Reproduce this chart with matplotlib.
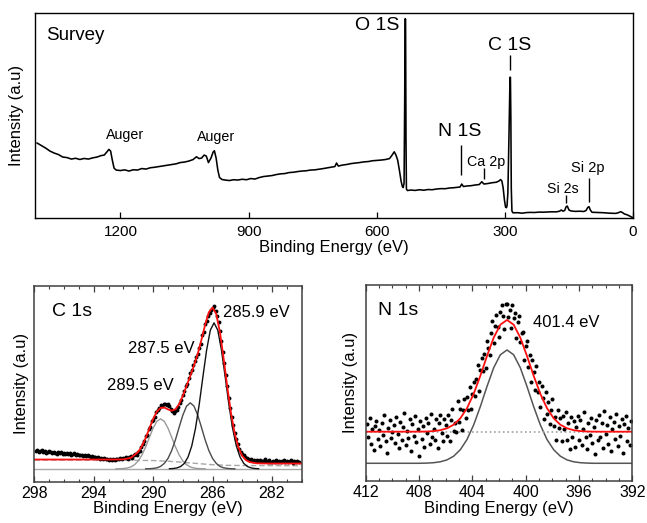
import numpy as np
import matplotlib
matplotlib.use("Agg")
import matplotlib.pyplot as plt
from matplotlib.ticker import MultipleLocator

plt.rcParams['font.family'] = ['Liberation Sans', 'DejaVu Sans']

# ---------------- Survey spectrum (binding energy eV, intensity a.u.) ----------------
svy_be = [1395, 1385, 1375, 1365, 1355, 1345, 1335, 1325, 1315, 1305, 1295, 1285, 1275, 1265,
          1255, 1245, 1238, 1232, 1227, 1223, 1219, 1215, 1210, 1200, 1190, 1180, 1170, 1160,
          1150, 1140, 1130, 1120, 1110, 1100, 1090, 1080, 1070, 1060, 1050, 1040, 1030, 1022,
          1016, 1010, 1004, 999, 994, 988, 983, 980, 976, 972, 968, 962, 955, 945, 935, 925,
          915, 905, 895, 885, 875, 865, 855, 845, 835, 825, 815, 805, 795, 785, 775, 765, 755,
          745, 735, 725, 715, 705, 698, 694, 690, 680, 670, 660, 650, 640, 630, 620, 610, 600,
          590, 580, 570, 564, 559, 555, 551, 547, 543, 540, 538, 536, 534.5, 533.5, 532.5,
          531.5, 530.5, 528, 520, 510, 500, 490, 480, 470, 460, 450, 440, 430, 420, 410, 405,
          401, 397, 390, 380, 370, 360, 354, 349, 340, 330, 320, 314, 310, 307, 304, 301,
          298.5, 296.5, 295, 293, 290.5, 288, 287, 286, 285, 283.5, 281, 270, 260, 250, 240,
          230, 220, 210, 200, 190, 180, 172, 168, 164, 160, 157, 154, 150, 145, 135, 125, 115,
          110, 106, 103, 100, 96, 85, 70, 55, 40, 33, 29, 25, 20, 14, 8, 3, 0]
svy_int = [75, 72.5, 70, 67, 65, 63.5, 61, 60.5, 59, 59.8, 58.6, 59.6, 59, 60.2,
           61, 62.5, 63, 66, 68.7, 67, 58, 50, 48, 47.5, 48.2, 47, 48.3, 48,
           49.5, 49, 50.3, 50.8, 51.5, 52.3, 53, 53.5, 54.2, 55.5, 56, 57, 58.5, 61.3,
           59.5, 60, 63, 62, 55.5, 60, 66, 67.3, 60, 48, 40.5, 38.5, 38, 37.5, 38.3, 38,
           38.8, 38.3, 39.5, 39, 40.5, 41.5, 42, 42.5, 43.5, 44.2, 44.5, 45.5, 45.8, 46.5, 47, 47.3, 48,
           48.2, 48.8, 49.5, 50.3, 51, 51.5, 55, 52, 53, 53.6, 54.5, 55, 55.5, 56.2, 56.5, 57.3, 57.6,
           58, 58.5, 59.5, 63, 66.3, 63, 58, 48, 37, 31.5, 30.5, 35, 120, 199.6, 199,
           80, 29, 27.5, 28, 27.6, 28.3, 27.8, 28.5, 28.3, 29, 29.4, 29.3, 30, 30.3, 30.8, 31,
           34, 31.5, 32, 32.3, 33, 33.5, 36.3, 34, 34.5, 35.3, 35.8, 37, 38.5, 37, 30, 18,
           11, 10.3, 12, 25, 80, 141, 140.8, 100, 30, 7, 5.2, 5.3, 4.8, 5.4, 5.6,
           5.5, 5.9, 5.8, 6, 6.2, 6.1, 6.8, 8, 6.8, 7.5, 11, 12, 8, 7, 6.6, 6.8, 6.5,
           7.5, 10.5, 11.3, 8, 5.7, 5.5, 5.3, 4.8, 4.6, 5.5, 6.3, 5.5, 4, 3.2, 2, 0.8, 0.3]

svy_ticks = [1200, 900, 600, 300, 0]
svy_labels = ["Auger", "Auger", "O 1S", "C 1S", "N 1S", "Ca 2p", "Si 2s", "Si 2p"]
svy_label_be = [1190, 976, 546, 288, 405, 344, 165, 105]
svy_label_y = [83, 81.5, 193, 172.4, 86.3, 56.3, 28.7, 49.7]
svy_line_be = [287, 402, 349, 157, 102]
svy_line_lo = [148, 43, 38.7, 14.7, 16.3]
svy_line_hi = [163, 73, 49.7, 23, 39.7]

# ---------------- C 1s high resolution ----------------
c1s_be = np.round(np.linspace(297.9, 280.2, 178), 2)   # energy channels, 0.1 eV
c1s_counts = [30.5, 31.2, 29.4, 30.8, 31.5, 29.9, 30.2, 28.8, 29.6, 30.9,
              29.1, 28.4, 30.0, 28.9, 27.6, 29.3, 28.1, 29.8, 27.9, 28.6,
              27.4, 28.8, 27.1, 28.2, 26.9, 27.8, 28.4, 26.5, 27.3, 26.8,
              27.0, 26.2, 25.9, 26.8, 25.4, 26.1, 25.2, 24.8, 25.7, 24.6,
              24.1, 23.5, 24.4, 22.9, 23.6, 22.4, 23.1, 22.2, 22.8, 21.9,
              22.5, 21.4, 22.9, 21.8, 22.6, 23.0, 22.1, 23.4, 22.7, 23.8,
              23.1, 24.2, 22.9, 24.5, 25.3, 24.0, 26.1, 27.2, 26.8, 29.4,
              31.0, 34.5, 37.8, 41.0, 45.2, 47.0, 52.4, 55.0, 60.1, 62.0,
              64.8, 69.5, 71.2, 74.0, 76.1, 75.3, 77.2, 78.0, 76.4, 77.5,
              75.9, 72.1, 70.4, 68.8, 70.9, 72.0, 74.7, 78.5, 81.3, 86.9,
              90.4, 95.1, 98.0, 103.2, 108.7, 112.0, 116.5, 120.3, 124.1, 128.0,
              133.8, 138.0, 146.1, 149.5, 157.9, 160.7, 165.3, 168.8, 171.4, 173.1,
              175.8, 171.0, 165.9, 159.2, 150.3, 141.0, 129.9, 118.6, 106.1, 95.2,
              84.0, 73.9, 64.1, 56.2, 48.9, 42.3, 37.4, 33.0, 29.8, 27.4,
              26.1, 24.9, 23.2, 22.8, 21.5, 22.4, 20.9, 21.8, 20.6, 21.4,
              20.3, 21.6, 20.1, 21.0, 22.3, 20.4, 19.8, 21.2, 20.0, 19.5,
              20.8, 19.4, 21.5, 19.9, 20.7, 19.1, 20.2, 21.9, 19.6, 20.5,
              19.3, 20.6, 21.4, 19.0, 20.1, 19.7, 20.9, 19.4]

c1s_fit_be = [298, 296, 294, 293, 292.5, 292, 291.5, 291, 290.75, 290.5, 290.25, 290, 289.75,
              289.5, 289.25, 289, 288.75, 288.5, 288.25, 288, 287.75, 287.5, 287.25, 287,
              286.75, 286.5, 286.25, 286, 285.75, 285.5, 285.25, 285, 284.75, 284.5, 284.25,
              284, 283.75, 283.5, 283, 282.5, 282, 281, 280]
c1s_fit = [22.0, 22.0, 22.0, 22.0, 22.0, 22.2, 23.7, 29.7, 35.6, 43.7, 53.2, 62.6, 69.9,
           73.7, 73.95, 72.1, 70.8, 72.3, 77.5, 85.8, 95.6, 105.6, 116.0, 127.6,
           141.7, 156.8, 169.3, 174.0, 167.5, 149.0, 122.6, 93.7, 67.6, 47.4, 33.8,
           25.6, 21.4, 19.4, 18.2, 18.05, 18.0, 18.0, 18.0]

c1s_bg_be = [298, 292, 290, 289, 288, 287, 286, 285, 284, 280]
c1s_bg = [21.5, 21.3, 21.0, 20.3, 19.2, 18.0, 16.8, 16.2, 16.0, 15.8]
c1s_base_be = [298, 280]
c1s_base = [12.7, 12.7]
c1s_ticks = [298, 294, 290, 286, 282]

c1s_peaks = [289.5, 287.5, 285.9]
c1s_comp_offsets = [-3.0, -2.75, -2.5, -2.25, -2.0, -1.75, -1.5, -1.25, -1.0, -0.75, -0.5, -0.25, 0,
                    0.25, 0.5, 0.75, 1.0, 1.25, 1.5, 1.75, 2.0, 2.25, 2.5, 2.75, 3.0]
c1s_comp_289 = [12.7, 12.8, 13.0, 13.5, 14.6, 16.8, 20.6, 26.6, 34.7, 44.2, 53.4, 60.2, 62.7,
                60.2, 53.4, 44.2, 34.7, 26.6, 20.6, 16.8, 14.6, 13.5, 13.0, 12.8, 12.7]
c1s_comp_287 = [12.7, 12.8, 13.1, 13.7, 15.1, 18.1, 23.1, 31.0, 41.7, 54.3, 66.4, 75.4, 78.7,
                75.4, 66.4, 54.3, 41.7, 31.0, 23.1, 18.1, 15.1, 13.7, 13.1, 12.8, 12.7]
c1s_comp_285 = [12.8, 13.0, 13.6, 15.0, 18.1, 24.5, 35.6, 53.1, 76.9, 104.7, 131.5, 151.4, 158.7,
                151.4, 131.5, 104.7, 76.9, 53.1, 35.6, 24.5, 18.1, 15.0, 13.6, 13.0, 12.8]

# ---------------- N 1s high resolution ----------------
n1s_be = np.round(np.linspace(411.9, 392.1, 199), 2)   # energy channels, 0.1 eV
n1s_counts = [57, 44, 63, 37, 52, 31, 55, 60, 42, 51,
              35, 58, 46, 66, 40, 28, 53, 61, 43, 49,
              56, 38, 64, 47, 33, 59, 41, 54, 68, 36,
              50, 43, 62, 30, 57, 45, 65, 39, 52, 25,
              60, 42, 55, 34, 63, 48, 58, 37, 67, 44,
              51.6, 40.7, 61.9, 33.0, 57.2, 65.5, 47.7, 40.1, 61.4, 55.9,
              44.4, 65.9, 39.6, 60.3, 72.1, 50.0, 58.1, 48.2, 79.5, 58.9,
              71.4, 51.1, 70.9, 81.9, 63.1, 83.5, 71.1, 93.8, 71.7, 86.7,
              98.9, 84.2, 101.7, 115.3, 90.0, 110.9, 122.9, 109.8, 126.7, 112.6,
              139.7, 132.6, 125.3, 148.1, 159.6, 138.0, 155.1, 166.0, 153.6, 144.0,
              169.0, 175.7, 165.0, 151.9, 176.5, 176.7, 163.5, 170.9, 153.0, 175.7,
              163.0, 168.0, 142.6, 159.0, 165.1, 139.0, 147.6, 149.1, 120.3, 134.6,
              139.7, 113.6, 125.7, 98.8, 120.9, 108.9, 91.0, 114.3, 88.7, 98.2,
              73.9, 94.7, 82.7, 61.8, 89.1, 66.5, 79.1, 56.9, 70.9, 82.1,
              54.4, 63.9, 40.5, 70.2, 53.1, 63.0, 40.1, 64.3, 51.6, 68.9,
              40.4, 57.9, 31.4, 64.1, 43.7, 59.5, 33.2, 54.0, 64.9, 40.7,
              60.6, 35.5, 51.4, 68.3, 43.3, 31.2, 57.2, 46.1, 63.1, 38.0,
              54, 27, 61, 41, 66, 44, 58, 33, 70, 47,
              56, 37, 64, 30, 52, 59, 42, 67, 35, 55,
              45, 62, 28, 57, 65, 40, 53, 36, 60]

n1s_fit_be = [412, 410, 408, 407.4, 406.9, 406.4, 405.9, 405.4, 404.9, 404.4, 403.9, 403.4,
              402.9, 402.4, 401.9, 401.4, 400.9, 400.4, 399.9, 399.4, 398.9, 398.4, 397.9,
              397.4, 396.9, 396.4, 395.9, 395.4, 394.9, 394.4, 393, 392]
n1s_fit = [49, 49, 49.05, 49.2, 49.6, 50.5, 52.4, 56.0, 62.4, 72.5, 86.9, 104.9,
           124.7, 143.0, 156.0, 160.7, 156.0, 143.0, 124.7, 104.9, 86.9, 72.5, 62.4,
           56.0, 52.4, 50.5, 49.6, 49.2, 49.05, 49.0, 49, 49]
n1s_comp = [17.4, 17.4, 17.4, 17.6, 18.0, 18.9, 20.8, 24.5, 31.0, 41.2, 55.8, 74.1,
            94.2, 112.9, 125.9, 130.7, 125.9, 112.9, 94.2, 74.1, 55.8, 41.2, 31.0,
            24.5, 20.8, 18.9, 18.0, 17.6, 17.4, 17.4, 17.4, 17.4]
n1s_bg_be = [412, 392]
n1s_bg = [48.3, 48.3]
n1s_ticks = [412, 408, 404, 400, 396, 392]
n1s_peak_label = "401.4 eV"

# ---------------- Figure ----------------
fig = plt.figure(figsize=(6.47, 5.23), dpi=100)

ax0 = fig.add_axes([0.0541, 0.5832, 0.9243, 0.3920])
ax1 = fig.add_axes([0.0530, 0.0793, 0.4133, 0.3738])
ax2 = fig.add_axes([0.5652, 0.0809, 0.4121, 0.3742])

# Survey
ax0.plot(svy_be, svy_int, color='black', lw=1.15)
ax0.set_xlim(1400, 0)
ax0.set_ylim(0, 205.3)
ax0.set_xticks(svy_ticks)
ax0.set_yticks([])
ax0.tick_params(axis='x', direction='in', length=4, width=0.9, labelsize=11, pad=5)
ax0.set_xlabel("Binding Energy (eV)", fontsize=12, labelpad=1)
ax0.set_ylabel("Intensity (a.u)", fontsize=12, labelpad=8)
for s in ax0.spines.values():
    s.set_linewidth(1.0)
    s.set_color('black')
ax0.text(0.018, 0.891, "Survey", transform=ax0.transAxes, fontsize=13.5, ha='left', va='center')
sizes = [10.3, 10.3, 14, 14, 14, 10.3, 10.2, 10.5]
aligns = ['center', 'center', 'right', 'center', 'center', 'center', 'center', 'center']
for lab, bx, by, fs, ha in zip(svy_labels, svy_label_be, svy_label_y, sizes, aligns):
    ax0.text(bx, by, lab, fontsize=fs, ha=ha, va='center')
ax0.vlines(svy_line_be, svy_line_lo, svy_line_hi, color='black', lw=1.0)


def style_detail(ax, ticks, xlim, ylim, ylabelpad):
    ax.set_xlim(*xlim)
    ax.set_ylim(*ylim)
    ax.set_xticks(ticks)
    ax.xaxis.set_minor_locator(MultipleLocator(1))
    ax.set_yticks([])
    ax.tick_params(axis='x', which='both', direction='in', top=True, labelsize=11.5, pad=3,
                   color='#404040')
    ax.tick_params(axis='x', which='major', length=4, width=0.9)
    ax.tick_params(axis='x', which='minor', length=2.5, width=0.8)
    ax.set_xlabel("Binding Energy (eV)", fontsize=12, labelpad=0.5)
    ax.set_ylabel("Intensity (a.u)", fontsize=12, labelpad=ylabelpad)
    for s in ax.spines.values():
        s.set_linewidth(1.1)
        s.set_color('#404040')


# C 1s
ax1.plot(c1s_base_be, c1s_base, color='#a8a8a8', lw=1.0)
ax1.plot(c1s_bg_be, c1s_bg, color='#a8a8a8', lw=1.0, ls=(0, (4, 2)))
ax1.plot([c1s_peaks[0] + o for o in c1s_comp_offsets], c1s_comp_289, color='#9a9a9a', lw=1.0)
ax1.plot([c1s_peaks[1] + o for o in c1s_comp_offsets], c1s_comp_287, color='#4a4a4a', lw=1.0)
ax1.plot([c1s_peaks[2] + o for o in c1s_comp_offsets], c1s_comp_285, color='#111111', lw=1.0)
ax1.plot(c1s_be, c1s_counts, 'o', color='black', ms=2.8, mew=0)
ax1.plot(c1s_fit_be, c1s_fit, color='#ff1010', lw=1.3)
style_detail(ax1, c1s_ticks, (298, 280), (0, 195.5), 4)
ax1.text(0.065, 0.868, "C 1s", transform=ax1.transAxes, fontsize=14, ha='left', va='center')
ax1.text(285.3, 168.8, "285.9 eV", fontsize=12, ha='left', va='center')
ax1.text(291.67, 133.2, "287.5 eV", fontsize=12, ha='left', va='center')
ax1.text(293.12, 96.5, "289.5 eV", fontsize=12, ha='left', va='center')

# N 1s
ax2.plot(n1s_fit_be, n1s_comp, color='#555555', lw=1.1)
ax2.plot(n1s_bg_be, n1s_bg, color='#a0a0a0', lw=1.2, ls=':')
ax2.plot(n1s_be, n1s_counts, 'o', color='black', ms=2.9, mew=0)
ax2.plot(n1s_fit_be, n1s_fit, color='#ff1010', lw=1.3)
style_detail(ax2, n1s_ticks, (412, 392), (0, 195.7), 5.5)
ax2.text(0.047, 0.872, "N 1s", transform=ax2.transAxes, fontsize=14, ha='left', va='center')
ax2.text(399.47, 158, n1s_peak_label, fontsize=12, ha='left', va='center')

fig.savefig("out.png", dpi=100)
